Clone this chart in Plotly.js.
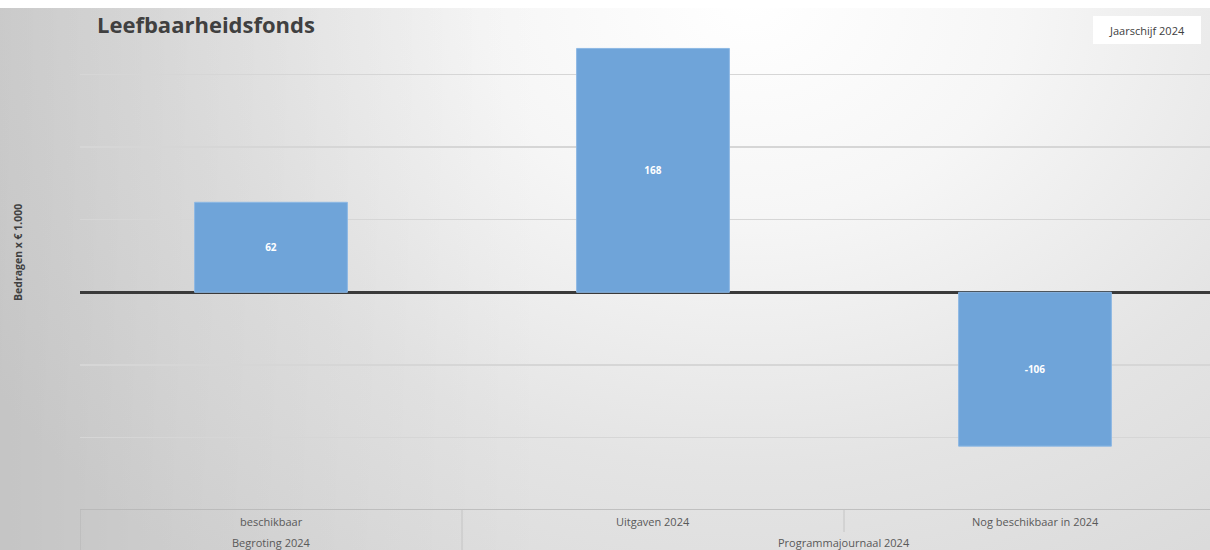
<!DOCTYPE html>
<html>
<head>
<meta charset="utf-8">
<script src="https://cdn.plot.ly/plotly-3.0.1.min.js"></script>
<style>
  html, body { margin: 0; padding: 0; background: #ffffff; }
  #chart {
    width: 1210px; height: 550px;
    background:
      linear-gradient(#ffffff, #ffffff) top left / 100% 8px no-repeat,
      linear-gradient(to right, rgba(0,0,0,0.09) 0%, rgba(0,0,0,0.05) 15%, rgba(0,0,0,0) 45%),
      radial-gradient(ellipse 900px 720px at 62% 0%, #ffffff 0%, #f6f6f6 30%, #e4e4e4 65%, #d8d8d8 100%);
  }
</style>
</head>
<body>
<div id="chart"></div>
<script>
// ---- data ----
const categories = ["beschikbaar", "Uitgaven 2024", "Nog beschikbaar in 2024"];
const groups = ["Begroting 2024", "Programmajournaal 2024", "Programmajournaal 2024"];
const values = [62, 168, -106];
const chartTitle = "Leefbaarheidsfonds";
const yTitle = "Bedragen x € 1.000";
const boxLabel = "Jaarschijf 2024";

const xIdx = categories.map((c, i) => i);
const labelColor = "#595959";
const font = "Open Sans, Noto Sans, Liberation Sans, sans-serif";

const trace = {
  type: "bar",
  x: xIdx,
  y: values,
  width: 0.4,
  marker: { color: "#6fa4d9", line: { color: "#8db8e4", width: 1 } },
  text: values.map(v => String(v)),
  textposition: "inside",
  insidetextanchor: "middle",
  textfont: { color: "#ffffff", size: 10, family: font, weight: "bold" },
  hoverinfo: "skip",
  cliponaxis: false
};

const shapes = [];
const annotations = [];
const bottomY = -40 / 508;
shapes.push({ type: "line", xref: "paper", yref: "y", x0: 0, x1: 1, y0: -150, y1: -150,
  line: { color: "#b4b4b4", width: 1.5 } });
shapes.push({ type: "line", xref: "x", yref: "paper", x0: -0.5, x1: -0.5, y0: 0, y1: bottomY,
  line: { color: "#b4b4b4", width: 1 } });
for (let i = 0; i < categories.length - 1; i++) {
  const sameGroup = groups[i] === groups[i + 1];
  shapes.push({ type: "line", xref: "x", yref: "paper", x0: i + 0.5, x1: i + 0.5,
    y0: 0, y1: sameGroup ? -22 / 508 : bottomY,
    line: { color: "#c4c4c4", width: 1 } });
}
categories.forEach((c, i) => {
  annotations.push({ xref: "x", yref: "paper", x: i, y: -11 / 508, text: c, showarrow: false,
    xanchor: "center", yanchor: "middle", font: { size: 11, color: labelColor, family: font } });
});
const groupNames = [...new Set(groups)];
groupNames.forEach(g => {
  const idx = groups.map((gg, i) => gg === g ? i : -1).filter(i => i >= 0);
  const center = (idx[0] + idx[idx.length - 1]) / 2;
  annotations.push({ xref: "x", yref: "paper", x: center, y: -33 / 508, text: g, showarrow: false,
    xanchor: "center", yanchor: "middle", font: { size: 11, color: labelColor, family: font } });
});
annotations.push({ xref: "paper", yref: "paper", x: 15 / 1130, y: 1.0 - 22 / 508, text: "<b>" + chartTitle + "</b>",
  showarrow: false, xanchor: "left", yanchor: "middle", font: { size: 22, color: "#404040", family: font } });
annotations.push({ xref: "paper", yref: "paper", x: -62 / 1130, y: 0.5 + 3 / 508, text: "<b>" + yTitle + "</b>",
  textangle: -90, showarrow: false, xanchor: "center", yanchor: "middle",
  font: { size: 10.5, color: "#404040", family: font } });
annotations.push({ xref: "paper", yref: "paper", x: 1067 / 1130, y: 1.0 - 27.5 / 508, text: boxLabel,
  showarrow: false, xanchor: "center", yanchor: "middle", bgcolor: "#ffffff",
  width: 104, height: 24, borderpad: 2, borderwidth: 0,
  font: { size: 11, color: "#404040", family: font } });

const layout = {
  width: 1210, height: 550,
  margin: { l: 80, r: 0, t: 2, b: 40 },
  paper_bgcolor: "rgba(0,0,0,0)",
  plot_bgcolor: "rgba(0,0,0,0)",
  showlegend: false,
  xaxis: { range: [-0.5, -0.5 + 1130 / 382], showticklabels: false, showgrid: false,
    zeroline: false, showline: false, ticks: "", fixedrange: true },
  yaxis: { range: [-150, 200], tickvals: [-100, -50, 50, 100, 150], showticklabels: false,
    showgrid: true, gridcolor: "#d6d6d6", gridwidth: 1.5,
    zeroline: true, zerolinecolor: "#3a3a3a", zerolinewidth: 2.5,
    showline: false, ticks: "", fixedrange: true },
  shapes: shapes,
  annotations: annotations,
  font: { family: font }
};

Plotly.newPlot("chart", [trace], layout, { displayModeBar: false, staticPlot: true });
</script>
</body>
</html>
